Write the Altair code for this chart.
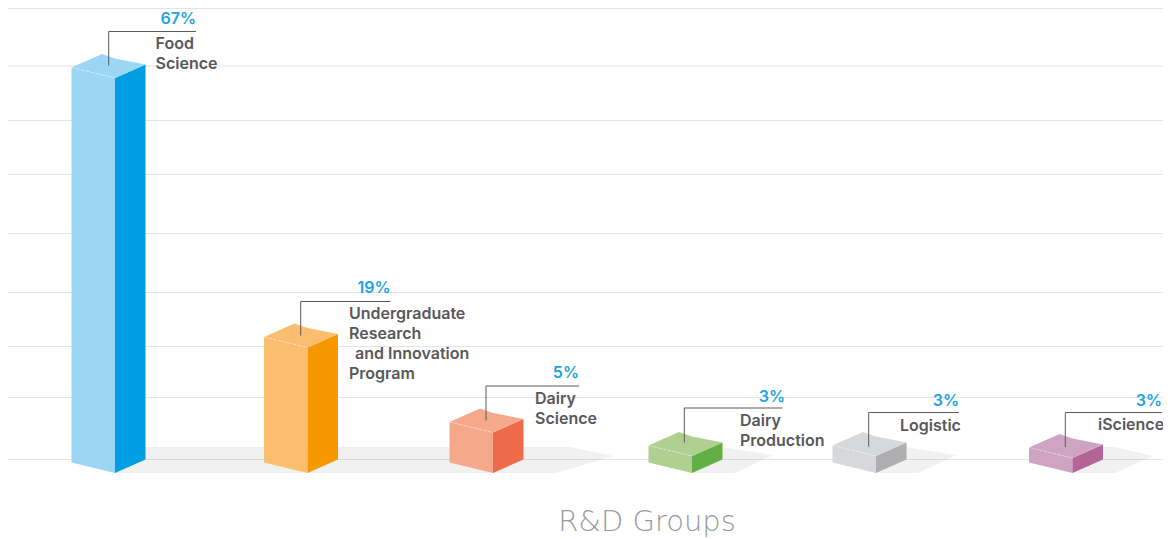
import altair as alt
import pandas as pd

# --- chart values ---
groups = ["Food Science", "Undergraduate Research and Innovation Program", "Dairy Science",
          "Dairy Production", "Logistic", "iScience"]
percent_labels = ["67%", "19%", "5%", "3%", "3%", "3%"]
name_lines = [["Food", "Science"],
              ["Undergraduate", "Research", "and Innovation", "Program"],
              ["Dairy", "Science"],
              ["Dairy", "Production"],
              ["Logistic"],
              ["iScience"]]
bar_heights = [395, 125.5, 40.5, 17, 17, 15]
grid_levels = [464.5, 407, 352.5, 298.5, 239.5, 180.5, 126.5, 75.5, 13.5]

# --- layout, in the units of the two scales ---
bar_centers = [115, 307.5, 493, 692, 876, 1072.5]
front_colors = ["#9bd7f5", "#fbbd6e", "#f5a98a", "#aed091", "#d7d8da", "#cfa3c2"]
side_colors = ["#009fe3", "#f79800", "#ee6a4a", "#62b045", "#aeaeb0", "#b46497"]
FRONT_W, SIDE_W, FRONT_DROP, SIDE_RISE = 43.5, 30.5, 10.5, 13.5
leader_ends = [196, 390.5, 579, 782.5, 959, 1162]
leader_tops = [441.5, 171.5, 87, 65, 60.5, 60.5]
leader_xs = [108.7, 300.7, 486, 684.3, 868.7, 1065.3]
leader_bottoms = [407.5, 137.5, 52.5, 30.5, 26.5, 26]
pct_x = [196, 390.5, 579, 785, 959, 1162]
name_x = [155.5, 349, 535, 740, 900, 1098]
name_indent = {"and Innovation": 6}
name_first_y = [429.5, 159.5, 74, 52, 47.5, 48]
pct_y = [454.5, 185, 100, 76, 72.5, 72.5]
shadow_specs = [
    [(115, 26, 0), (556, 26, 0), (570, 26, 4), (613, 17, 17)],
    [(692, 26, 0), (722, 26, 0), (735, 24, 0), (773, 18, 18)],
    [(876, 26, 0), (906, 26, 0), (918, 24, 0), (957, 18, 18)],
    [(1072, 26, 0), (1103, 26, 0), (1115, 26, 0), (1153, 17, 17)],
]

X = alt.Scale(domain=[8, 1163], nice=False, zero=False)
Y = alt.Scale(domain=[-66, 465], nice=False, zero=False)
x_enc = alt.X("x:Q", scale=X, axis=None)
y_enc = alt.Y("y:Q", scale=Y, axis=None, stack=False)

# faces
faces = []
for i, (c, h) in enumerate(zip(bar_centers, bar_heights)):
    left, right = c - FRONT_W, c + SIDE_W
    back = left + SIDE_W
    slope_front = FRONT_DROP / FRONT_W
    pts_top = [
        (left, h + FRONT_DROP, h + FRONT_DROP),
        (back, h + FRONT_DROP + SIDE_RISE, h + FRONT_DROP - slope_front * SIDE_W),
        (c, h + FRONT_DROP + SIDE_RISE - FRONT_DROP * (FRONT_W - SIDE_W) / SIDE_W, h),
        (right, h + SIDE_RISE, h + SIDE_RISE),
    ]
    for name, col, pts in [
        ("front", front_colors[i], [(left, h + FRONT_DROP, FRONT_DROP), (c, h, 0)]),
        ("side", side_colors[i], [(c, h, 0), (right, h + SIDE_RISE, SIDE_RISE)]),
        ("top", front_colors[i], pts_top),
    ]:
        for px, py, py2 in pts:
            faces.append(dict(shape=f"{i}-{name}", fill=col, x=px, y=py, y2=py2))
faces_df = pd.DataFrame(faces)

# shadows
shadows = []
for s, spec in enumerate(shadow_specs):
    for px, py, py2 in spec:
        shadows.append(dict(shape=f"s{s}", x=px, y=py, y2=py2))
shadow_df = pd.DataFrame(shadows)

# dashed highlight along the front top edge
edges = []
for i, (c, h) in enumerate(zip(bar_centers, bar_heights)):
    edges += [dict(shape=f"e{i}", x=c - FRONT_W, y=h + FRONT_DROP, k=0),
              dict(shape=f"e{i}", x=c, y=h, k=1)]
edge_df = pd.DataFrame(edges)

# leaders
leaders = []
for i in range(len(groups)):
    leaders += [dict(shape=f"l{i}", x=leader_xs[i], y=leader_bottoms[i], k=0),
                dict(shape=f"l{i}", x=leader_xs[i], y=leader_tops[i], k=1),
                dict(shape=f"l{i}", x=leader_ends[i], y=leader_tops[i], k=2)]
leader_df = pd.DataFrame(leaders)

grid_df = pd.DataFrame({"y": grid_levels, "x": [8] * len(grid_levels), "x2": [1163] * len(grid_levels)})
pct_df = pd.DataFrame({"x": pct_x, "y": pct_y, "t": percent_labels})
names = []
for i, lines in enumerate(name_lines):
    for j, t in enumerate(lines):
        names.append(dict(x=name_x[i] + name_indent.get(t, 0), y=name_first_y[i] - j * 20.2, t=t))
name_df = pd.DataFrame(names)
title_df = pd.DataFrame({"x": [647], "y": [-49], "t": ["R&D Groups"]})

grid = alt.Chart(grid_df).mark_rule(color="#e4e4e4", strokeWidth=1.2).encode(x=x_enc, x2="x2:Q", y=y_enc)
shadow = alt.Chart(shadow_df).mark_area(color="#000000", opacity=0.055, interpolate="linear", orient="vertical").encode(
    x=x_enc, y=y_enc, y2="y2:Q", detail="shape:N")
bars = alt.Chart(faces_df).mark_area(interpolate="linear", orient="vertical").encode(
    x=x_enc, y=y_enc, y2="y2:Q", detail="shape:N",
    fill=alt.Fill("fill:N", scale=None))
edge = alt.Chart(edge_df).mark_line(color="#ffffff", strokeWidth=0.7, strokeDash=[3, 2], opacity=0.5).encode(
    x=x_enc, y=y_enc, detail="shape:N", order="k:Q")
leader = alt.Chart(leader_df).mark_line(color="#5a5a5a", strokeWidth=1).encode(
    x=x_enc, y=y_enc, detail="shape:N", order="k:Q")
pct = alt.Chart(pct_df).mark_text(align="right", baseline="middle", font="Inter", fontSize=16,
                                  fontWeight=600, color="#1ba3e2").encode(x=x_enc, y=y_enc, text="t:N")
name = alt.Chart(name_df).mark_text(align="left", baseline="middle", font="Inter", fontSize=16,
                                    fontWeight=600, color="#58585a").encode(x=x_enc, y=y_enc, text="t:N")
title = alt.Chart(title_df).mark_text(align="center", baseline="middle", font="DejaVu Sans", fontSize=29,
                                      fontWeight=200, color="#989a9c").encode(x=x_enc, y=y_enc, text="t:N")

chart = alt.layer(grid, shadow, bars, edge, leader, pct, name, title).properties(
    width=1155, height=531, padding=0, autosize=alt.AutoSizeParams(type="none")
).configure_view(stroke=None)

chart.save("out.html", embed_options={"renderer": "svg", "actions": False})
